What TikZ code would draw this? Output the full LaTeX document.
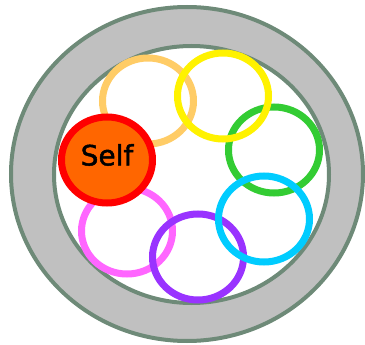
\documentclass[tikz,border=0pt]{standalone}
\usepackage{fontspec}
\setsansfont{DejaVu Sans}
\newfontfamily\selffont[FakeBold=1.6]{DejaVu Sans}
\usetikzlibrary{shapes.geometric}
\definecolor{rimgray}{HTML}{C0C0C0}
\definecolor{rimline}{HTML}{6E8A78}
\definecolor{peach}{HTML}{FFCC66}
\definecolor{lime}{HTML}{33CC33}
\definecolor{sky}{HTML}{00CCFF}
\definecolor{violet}{HTML}{9933FF}
\definecolor{pinky}{HTML}{FF66FF}
\definecolor{selffill}{HTML}{FF6600}
\tikzset{
  ring/.style={ellipse,draw=#1,line width=7pt,inner sep=0pt,
    minimum width=91pt,minimum height=86pt},
  rim/.style={ellipse,draw=rimline,line width=4pt,inner sep=0pt}
}
\begin{document}
\begin{tikzpicture}[x=1pt,y=-1pt,font=\sffamily]
  \useasboundingbox (0,0) rectangle (365,345);
  \node[rim,fill=rimgray,minimum width=352pt,minimum height=334pt] (outer) at (187,174) {};
  \node[rim,fill=white,minimum width=275pt,minimum height=257pt] (inner) at (191.5,174.5) {};
  \node[ring=peach] (peach) at (148,101) {};
  \node[ring=lime] (green) at (274,150) {};
  \node[ring=yellow] (yellow) at (223,96) {};
  \node[ring=pinky] (pink) at (127,231) {};
  \node[ring=violet] (purple) at (198,257) {};
  \node[ring=sky] (cyan) at (264,219) {};
  \node[ring=red,fill=selffill] (self) at (107,160) {};
  \node[font=\fontsize{28}{32}\selffont,inner sep=0pt] (selftext) at (107,155) {Self};
\end{tikzpicture}
\end{document}
